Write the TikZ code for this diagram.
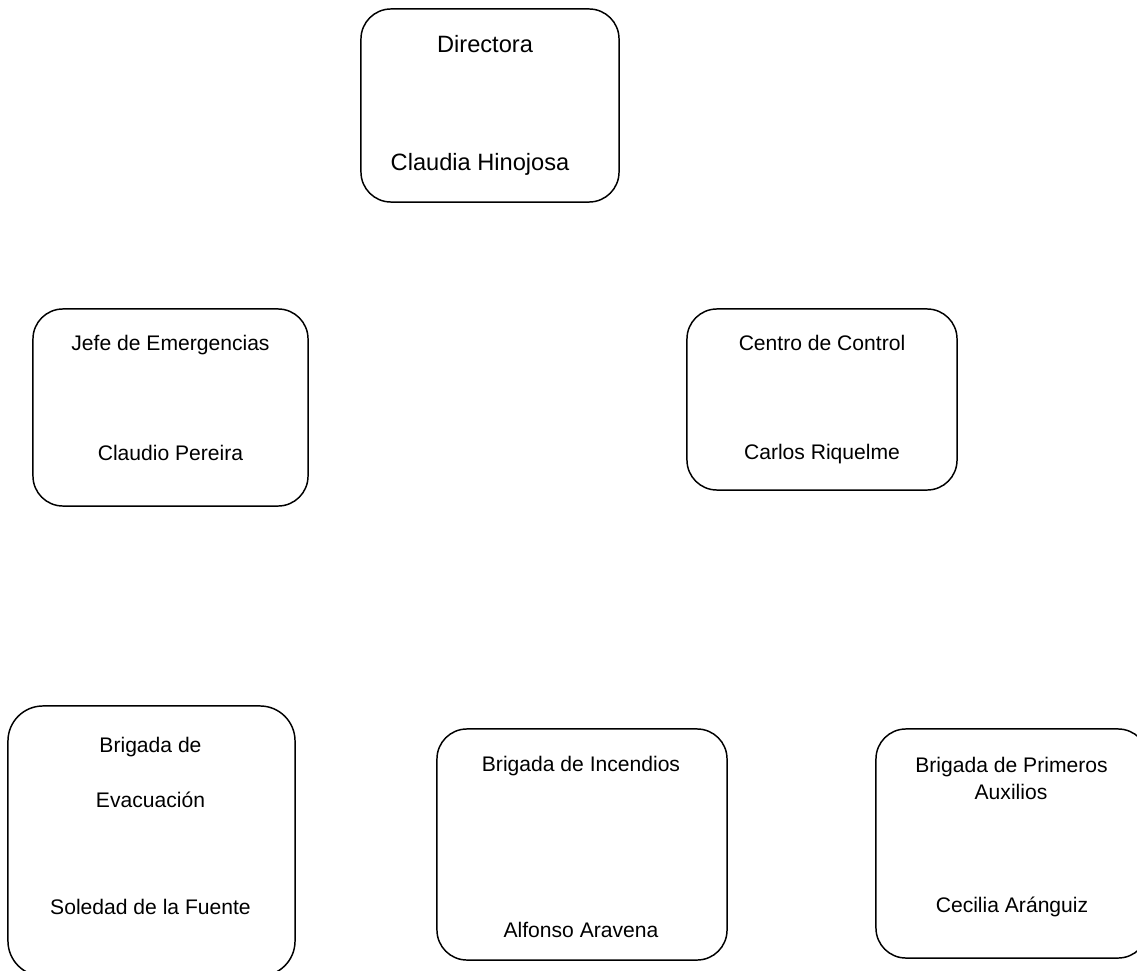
\documentclass[tikz,border=0pt]{standalone}
\usepackage{fontspec}
\setmainfont{Liberation Sans}
\usepackage{tikz}
\usetikzlibrary{positioning}
\tikzstyle{cargo}=[rectangle, rounded corners=0.75cm, draw=black, line width=1.05pt]
\tikzstyle{nombre}=[anchor=base, inner sep=0pt, font=\fontsize{15}{18}\selectfont]
\tikzstyle{grande}=[nombre, font=\fontsize{16.8}{20}\selectfont]

\begin{document}
\begin{tikzpicture}[x=0.025cm, y=-0.025cm]
        \useasboundingbox (0,0) rectangle (1137,971);

        % cajas
        \node[cargo, minimum width=6.45cm, minimum height=4.825cm] (dir) at (490,105.5) {};
        \node[cargo, minimum width=6.875cm, minimum height=4.925cm] (jefe) at (170.5,407.5) {};
        \node[cargo, minimum width=6.75cm, minimum height=4.525cm] (centro) at (822,399.5) {};
        \node[cargo, rounded corners=0.875cm, minimum width=7.175cm, minimum height=6.75cm] (evac) at (151.5,841) {};
        \node[cargo, minimum width=7.25cm, minimum height=5.775cm] (incend) at (582,844.5) {};
        \node[cargo, minimum width=6.8cm, minimum height=5.725cm] (auxil) at (1012,843.5) {};

        % textos
        \node[grande] (dir1) at (485,53) {Directora};
        \node[grande] (dir2) at (480,170.5) {Claudia Hinojosa};
        \node[nombre] (jefe1) at (170.5,350.5) {Jefe de Emergencias};
        \node[nombre] (jefe2) at (170.5,460.5) {Claudio Pereira};
        \node[nombre] (centro1) at (822,350.5) {Centro de Control};
        \node[nombre] (centro2) at (822,459.5) {Carlos Riquelme};
        \node[nombre] (evac1) at (150.5,752.5) {Brigada de};
        \node[nombre] (evac2) at (150.5,807.5) {Evacuación};
        \node[nombre] (evac3) at (150.5,914.5) {Soledad de la Fuente};
        \node[nombre] (incend1) at (581,771.5) {Brigada de Incendios};
        \node[nombre] (incend2) at (581,937.5) {Alfonso Aravena};
        \node[nombre] (auxil1) at (1011.5,772.5) {Brigada de Primeros};
        \node[nombre] (auxil2) at (1011,799.5) {Auxilios};
        \node[nombre] (auxil3) at (1012,912.5) {Cecilia Aránguiz};
\end{tikzpicture}
\end{document}
